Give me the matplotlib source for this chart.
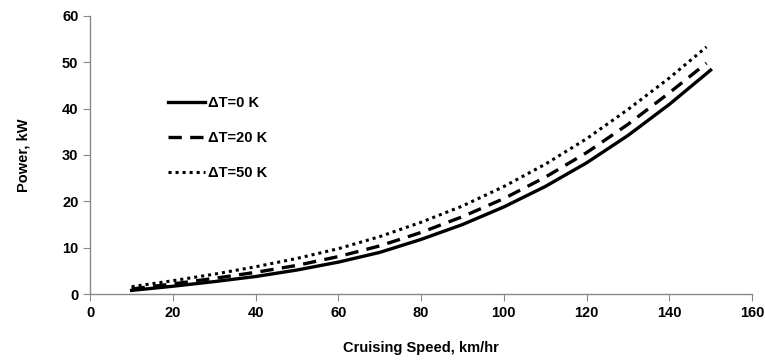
import matplotlib
matplotlib.use("Agg")
import matplotlib.pyplot as plt

speed = [10, 20, 30, 40, 50, 60, 70, 80, 90, 100, 110, 120, 130, 140, 150]
p_dt0 = [0.8, 1.7, 2.7, 3.8, 5.2, 6.9, 9.0, 11.8, 15.0, 18.8, 23.2, 28.3, 34.2, 40.9, 48.3]
speed_b = [10, 20, 30, 40, 50, 60, 70, 80, 90, 100, 110, 120, 130, 140, 149]
p_dt20 = [1.1, 2.2, 3.4, 4.7, 6.2, 8.1, 10.4, 13.3, 16.7, 20.6, 25.2, 30.5, 36.6, 43.4, 49.8]
p_dt50 = [1.6, 2.9, 4.3, 5.9, 7.7, 9.8, 12.4, 15.5, 19.0, 23.2, 28.0, 33.5, 39.8, 46.6, 53.3]
labels = ["\u0394T=0 K", "\u0394T=20 K", "\u0394T=50 K"]

plt.rcParams['font.family'] = ['Liberation Sans', 'DejaVu Sans']
plt.rcParams['font.weight'] = 'bold'

fig = plt.figure(figsize=(7.65, 3.6), dpi=100)
ax = fig.add_axes([0.118, 0.183, 0.865, 0.773])

ax.plot(speed, p_dt0, color='black', lw=2.4, ls='-', label=labels[0])
ax.plot(speed_b, p_dt20, color='black', lw=2.4, ls=(0, (4, 2.5)), label=labels[1])
ax.plot(speed_b, p_dt50, color='black', lw=2.2, ls=(0, (1, 1.3)), label=labels[2])

ax.set_xlim(0, 160)
ax.set_ylim(0, 60)
ax.set_xticks(range(0, 161, 20))
ax.set_yticks(range(0, 61, 10))
for s in ['top', 'right']:
    ax.spines[s].set_visible(False)
for s in ['left', 'bottom']:
    ax.spines[s].set_color('#888888')
    ax.spines[s].set_linewidth(1.0)
ax.tick_params(axis='both', colors='#888888', labelcolor='black', labelsize=10.5, length=5, direction='out')
for t in ax.get_xticklabels() + ax.get_yticklabels():
    t.set_fontweight('bold')

ax.set_xlabel("Cruising Speed, km/hr", fontsize=10.5, fontweight='bold', labelpad=15)
ax.set_ylabel("Power, kW", fontsize=10.5, fontweight='bold', labelpad=23)

leg = ax.legend(loc='upper left', bbox_to_anchor=(0.097, 0.76), frameon=False,
                fontsize=10.5, handlelength=2.6, handletextpad=0.2, labelspacing=1.45)
for t in leg.get_texts():
    t.set_fontweight('bold')

fig.savefig("out.png", dpi=100)
